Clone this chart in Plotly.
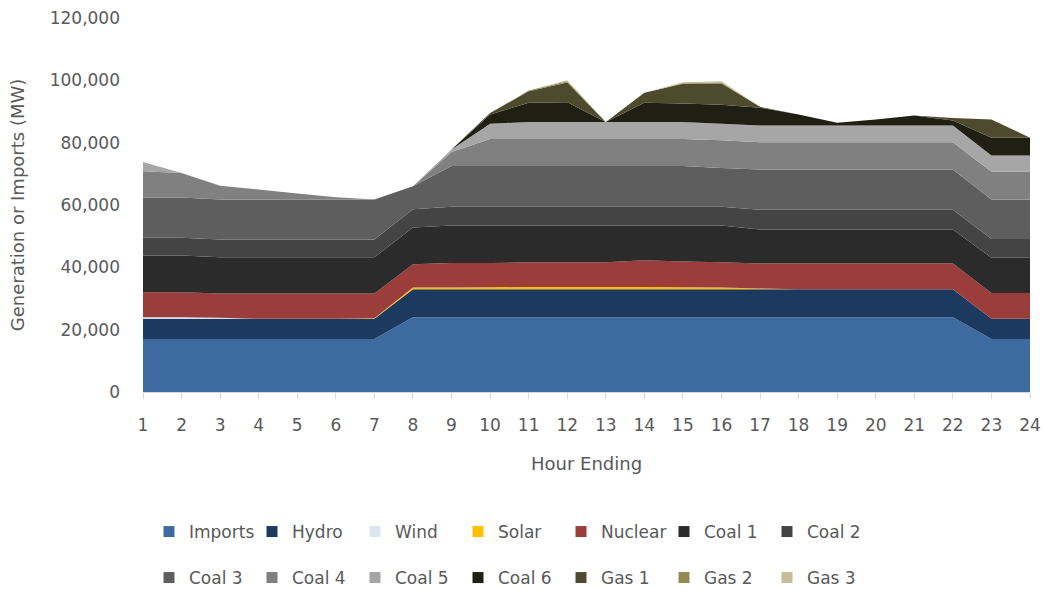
import plotly.graph_objects as go

# Hourly generation mix (MW), hour ending 1..24
hours = list(range(1, 25))

imports = [17000] * 7 + [24000] * 15 + [17000] * 2
hydro = [6500] * 7 + [9000] * 15 + [6500] * 2
wind = [500, 500, 300] + [0] * 21
solar = [0, 0, 0, 0, 0, 0, 200, 500, 500, 600, 700, 700,
         700, 700, 600, 500, 200, 0, 0, 0, 0, 0, 0, 0]
nuclear = [8000, 8000, 7800, 8100, 8100, 8100, 7900, 7500, 7900, 7800, 7900, 7900,
           7900, 8600, 8300, 8100, 8000, 8200, 8200, 8200, 8200, 8200, 8300, 8300]
coal1 = [11800, 11800, 11600, 11600, 11600, 11600, 11600, 11800, 12000, 12000, 11800, 11800,
         11800, 11100, 11500, 11800, 10900, 10900, 10900, 10900, 10900, 10900, 11300, 11300]
coal2 = [5700, 5700, 5700, 5700, 5700, 5700, 5700, 5800, 6000, 6000, 6000, 6000,
         6000, 6000, 6000, 6000, 6400, 6400, 6400, 6400, 6400, 6400, 6000, 6000]
coal3 = [12900, 12900, 12900, 12900, 12900, 12900, 12900, 7400, 13100, 13100, 13100, 13100,
         13100, 13100, 13100, 12500, 12900, 12900, 12900, 12900, 12900, 12900, 12700, 12700]
coal4 = [8400, 7900, 4400, 3200, 1900, 700, 0, 0, 4500, 8700, 8700, 8700,
         8700, 8700, 8700, 8900, 8700, 8700, 8700, 8700, 8700, 8700, 8900, 8900]
coal5 = [3000, 0, 0, 0, 0, 0, 0, 0, 800, 4900, 5400, 5400,
         5400, 5400, 5400, 5300, 5400, 5400, 5400, 5400, 5400, 5400, 5200, 5200]
coal6 = [0, 0, 0, 0, 0, 0, 0, 0, 0, 2900, 6200, 6400,
         0, 6200, 6000, 6100, 5700, 3500, 900, 1900, 3200, 1600, 5700, 5700]
gas1 = [0, 0, 0, 0, 0, 0, 0, 0, 0, 500, 3700, 6300,
        0, 3200, 6300, 6800, 300, 0, 0, 0, 0, 800, 5800, 0]
gas2 = [0, 0, 0, 0, 0, 0, 0, 0, 0, 0, 200, 400,
        0, 0, 200, 300, 0, 0, 0, 0, 0, 0, 0, 0]
gas3 = [0, 0, 0, 0, 0, 0, 0, 0, 0, 0, 0, 300,
        0, 0, 300, 400, 0, 0, 0, 0, 0, 0, 0, 0]

series_names = ["Imports", "Hydro", "Wind", "Solar", "Nuclear", "Coal 1", "Coal 2",
                "Coal 3", "Coal 4", "Coal 5", "Coal 6", "Gas 1", "Gas 2", "Gas 3"]
series_values = [imports, hydro, wind, solar, nuclear, coal1, coal2,
                 coal3, coal4, coal5, coal6, gas1, gas2, gas3]
series_colors = ["#3e6b9f", "#1c3a60", "#dce6f2", "#ffc000", "#9b3d3a", "#2b2b2b", "#444444",
                 "#5e5e5e", "#808080", "#a6a6a6", "#201f14", "#4d4a2e", "#948a54", "#c4bd97"]

y_ticks = [0, 20000, 40000, 60000, 80000, 100000, 120000]

TEXT = "#595959"
FONT = "DejaVu Sans"

fig = go.Figure()

# stacked areas
for name, vals, col in zip(series_names, series_values, series_colors):
    fig.add_trace(go.Scatter(
        x=hours, y=vals, name=name, stackgroup="mix", mode="none",
        fillcolor=col, showlegend=False, hoverinfo="x+y+name",
    ))

# legend entries: square swatches, seven per row
for i, (name, col) in enumerate(zip(series_names, series_colors)):
    fig.add_trace(go.Scatter(
        x=[None], y=[None], name=name, mode="markers",
        marker=dict(symbol="square", size=11, color=col),
        legend="legend" if i < 7 else "legend2",
    ))

legend_common = dict(
    orientation="h", xanchor="left", yanchor="middle",
    xref="container", yref="container",
    entrywidth=58, entrywidthmode="pixels",
    font=dict(family=FONT, size=17, color=TEXT),
    bgcolor="rgba(0,0,0,0)", traceorder="normal",
)

fig.update_layout(
    width=1045, height=590, autosize=False,
    margin=dict(l=143, r=15, t=18, b=198, autoexpand=False),
    paper_bgcolor="white", plot_bgcolor="white",
    font=dict(family=FONT, size=17, color=TEXT),
    legend=dict(x=149 / 1045, y=(590 - 532) / 590, **legend_common),
    legend2=dict(x=149 / 1045, y=(590 - 578) / 590, **legend_common),
    xaxis=dict(
        range=[1, 24], tickmode="array", tickvals=hours, ticktext=[str(h) for h in hours],
        showgrid=False, zeroline=False, showline=True, linecolor="#d9d9d9", linewidth=1,
        ticks="outside", ticklen=6, tickcolor="#d9d9d9",
        tickfont=dict(family=FONT, size=17, color=TEXT), ticklabelstandoff=12,
        title=dict(text="Hour Ending", font=dict(family=FONT, size=18, color=TEXT), standoff=22),
    ),
    yaxis=dict(
        range=[0, 120000], tickmode="array", tickvals=y_ticks, tickformat=",",
        showgrid=False, zeroline=False, showline=False, ticks="",
        tickfont=dict(family=FONT, size=17, color=TEXT), ticklabelstandoff=22,
        title=dict(text="Generation or Imports (MW)", font=dict(family=FONT, size=18, color=TEXT), standoff=20),
    ),
)

fig.write_html("out.html")
